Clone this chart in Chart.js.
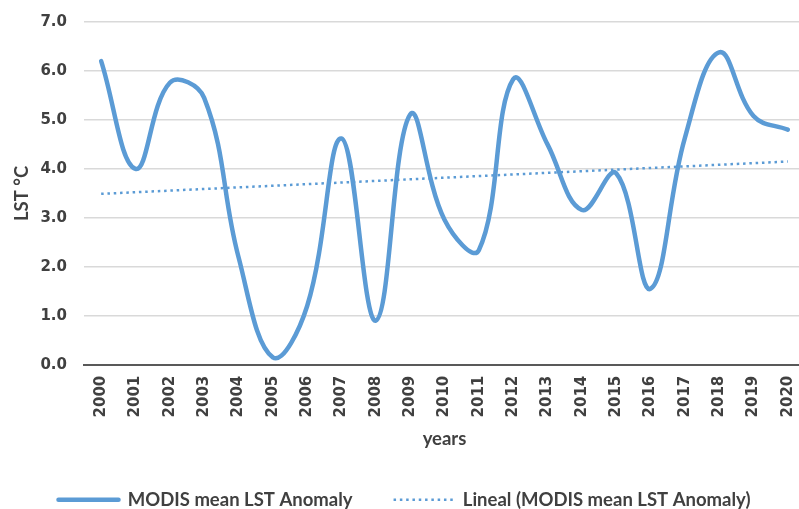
<!DOCTYPE html>
<html>
<head>
<meta charset="utf-8">
<script src="https://cdn.jsdelivr.net/npm/chart.js@4/dist/chart.umd.min.js"></script>
<style>
  html, body { margin: 0; padding: 0; background: #fff; overflow: hidden; }
  #wrap { position: relative; width: 805px; height: 519px; }
</style>
</head>
<body>
<div id="wrap"><canvas id="c"></canvas></div>
<script>
const years = ['2000','2001','2002','2003','2004','2005','2006','2007','2008','2009','2010',
               '2011','2012','2013','2014','2015','2016','2017','2018','2019','2020'];
const lstAnomaly = [6.2, 4.0, 5.76, 5.45, 2.2, 0.15, 1.2, 4.62, 0.9, 5.11, 2.96,
                    2.34, 5.83, 4.5, 3.16, 3.91, 1.55, 4.63, 6.38, 5.08, 4.8];
// Linear trendline endpoints (2000 and 2020)
const trendStart = 3.49;
const trendEnd = 4.15;
const yTicks = [0, 1, 2, 3, 4, 5, 6, 7];
const seriesName = 'MODIS mean LST Anomaly';
const trendName = 'Lineal (MODIS mean LST Anomaly)';

const trendData = years.map((y, i) => i === 0 ? trendStart : (i === years.length - 1 ? trendEnd : null));

const blue = '#5b9bd5';
const textCol = '#404040';
const verdanaLike = "'DejaVu Sans', Verdana, sans-serif";
const calibriLike = "Lato, 'Open Sans', sans-serif";

new Chart(document.getElementById('c'), {
  type: 'line',
  data: {
    labels: years,
    datasets: [
      {
        label: seriesName,
        data: lstAnomaly,
        borderColor: blue,
        backgroundColor: blue,
        borderWidth: 4.5,
        tension: 0.4,
        pointRadius: 0,
        pointHoverRadius: 0,
        borderCapStyle: 'round',
        borderJoinStyle: 'round',
        pointStyle: 'line',
        fill: false
      },
      {
        label: trendName,
        data: trendData,
        spanGaps: true,
        borderColor: blue,
        backgroundColor: blue,
        borderWidth: 2.5,
        borderDash: [2.5, 3.8],
        tension: 0,
        pointRadius: 0,
        pointHoverRadius: 0,
        pointStyle: 'line',
        fill: false
      }
    ]
  },
  options: {
    responsive: true,
    maintainAspectRatio: false,
    animation: false,
    devicePixelRatio: 1,
    layout: { padding: { top: 22, left: 4, right: 0, bottom: 0 } },
    plugins: {
      tooltip: { enabled: false },
      legend: {
        position: 'bottom',
        labels: {
          usePointStyle: true,
          pointStyleWidth: 60,
          boxHeight: 18,
          padding: 41,
          color: textCol,
          font: { family: calibriLike, size: 18.5, weight: 'bold' },
          generateLabels: (chart) => {
            const items = Chart.defaults.plugins.legend.labels.generateLabels(chart);
            items.forEach((it) => {
              const ds = chart.data.datasets[it.datasetIndex];
              it.lineDash = ds.borderDash || [];
              it.lineWidth = ds.borderWidth;
              it.lineCap = ds.borderDash ? 'butt' : 'round';
            });
            return items;
          }
        }
      }
    },
    scales: {
      x: {
        offset: true,
        afterFit: (axis) => { axis.height = 84.8; axis.paddingLeft = 0; axis.paddingRight = 0; },
        grid: { display: false, drawTicks: false },
        border: { display: true, color: '#595959', width: 2 },
        ticks: {
          color: textCol,
          font: { family: verdanaLike, size: 15, weight: 'bold' },
          maxRotation: 90,
          minRotation: 90,
          padding: 11,
          autoSkip: false
        },
        title: {
          display: true,
          text: 'years',
          color: textCol,
          font: { family: calibriLike, size: 18.5, weight: 'bold' },
          padding: { top: 4, bottom: -1 }
        }
      },
      y: {
        min: yTicks[0],
        max: yTicks[yTicks.length - 1],
        afterFit: (axis) => { axis.width = 80; axis.paddingTop = 0; axis.paddingBottom = 0; },
        grid: { color: '#d9d9d9', lineWidth: 1.5, drawTicks: false },
        border: { display: false },
        afterBuildTicks: (axis) => { axis.ticks = yTicks.map(v => ({ value: v })); },
        ticks: {
          color: textCol,
          font: { family: verdanaLike, size: 15, weight: 'bold' },
          padding: 17,
          callback: (v) => Number(v).toFixed(1)
        },
        title: {
          display: true,
          text: 'LST °C',
          color: textCol,
          font: { family: calibriLike, size: 18.5, weight: 'bold' },
          padding: { top: 7, bottom: 2 }
        }
      }
    }
  }
});
</script>
</body>
</html>
